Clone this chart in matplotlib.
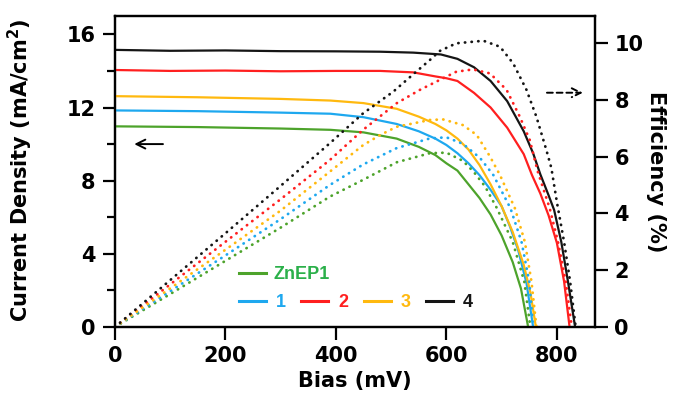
"""J-V and efficiency curves, twin axes."""

import matplotlib

matplotlib.use("Agg")
import matplotlib.pyplot as plt
from matplotlib.lines import Line2D
from matplotlib.ticker import MultipleLocator

# ---- data (bias in mV) ----
labels = ["ZnEP1", "1", "2", "3", "4"]
colors = ["#4da32b", "#1ea8ef", "#ff1f1f", "#ffb90f", "#151515"]
text_colors = ["#2bb04a", "#1ea8ef", "#ff1f1f", "#ffb90f", "#151515"]

# current density, mA/cm^2
jv_bias = {
    "ZnEP1": [0, 150, 300, 390, 450, 510, 550, 580, 600, 620, 640, 660, 680, 700,
              720, 735, 748],
    "1": [0, 150, 300, 390, 450, 510, 550, 580, 600, 620, 640, 660, 680, 700, 715,
          730, 745, 757],
    "2": [0, 100, 200, 300, 400, 480, 540, 580, 600, 620, 650, 680, 710, 740, 755,
          770, 785, 800, 813, 823],
    "3": [0, 150, 300, 390, 450, 510, 550, 580, 600, 620, 640, 660, 680, 700, 720,
          740, 752, 762],
    "4": [0, 100, 200, 300, 400, 480, 540, 590, 620, 650, 680, 710, 740, 757, 770,
          785, 795, 808, 820, 833],
}
jv_current = {
    "ZnEP1": [10.97, 10.93, 10.85, 10.78, 10.64, 10.3, 9.85, 9.4, 8.95, 8.55, 7.8,
              7.05, 6.15, 5.0, 3.55, 2.1, 0],
    "1": [11.84, 11.8, 11.72, 11.66, 11.47, 11.1, 10.7, 10.3, 9.95, 9.5, 8.95, 8.3,
          7.5, 6.6, 5.5, 4.2, 2.4, 0],
    "2": [14.05, 14.0, 14.02, 13.98, 14.0, 14.0, 13.92, 13.7, 13.6, 13.45, 12.8,
          12.0, 10.9, 9.45, 8.3, 7.3, 6.1, 4.6, 2.5, 0],
    "3": [12.62, 12.56, 12.47, 12.38, 12.24, 11.93, 11.5, 11.1, 10.75, 10.3, 9.7,
          8.85, 7.8, 6.6, 5.2, 3.4, 1.9, 0],
    "4": [15.15, 15.1, 15.12, 15.08, 15.07, 15.05, 15.0, 14.9, 14.66, 14.2, 13.45,
          12.35, 10.7, 9.5, 8.35, 7.2, 6.4, 4.65, 2.5, 0],
}

# efficiency, %
eff_bias = {
    "ZnEP1": [0, 100, 200, 300, 389, 449, 510, 570, 600, 630, 650, 670, 691, 720,
              741, 752],
    "1": [0, 100, 200, 300, 389, 449, 510, 570, 600, 630, 661, 685, 716, 736, 750,
          757],
    "2": [0, 100, 200, 300, 389, 449, 510, 552, 588, 618, 648, 679, 709, 733, 751,
          765, 787, 802, 816, 827],
    "3": [0, 100, 200, 300, 389, 449, 480, 510, 570, 594, 630, 655, 679, 697, 724,
          742, 754, 763],
    "4": [0, 100, 200, 300, 389, 449, 504, 540, 570, 588, 618, 667, 697, 721, 745,
          763, 781, 790, 800, 813, 824, 834],
}
eff_value = {
    "ZnEP1": [0, 1.16, 2.33, 3.5, 4.59, 5.18, 5.8, 6.12, 6.14, 5.85, 5.45, 4.95, 4.2,
              3.0, 1.6, 0],
    "1": [0, 1.26, 2.52, 3.8, 5.0, 5.72, 6.3, 6.64, 6.68, 6.45, 5.95, 5.35, 4.18,
          3.0, 1.6, 0],
    "2": [0, 1.5, 3.0, 4.5, 5.88, 6.94, 7.88, 8.35, 8.7, 8.99, 9.07, 8.93, 8.35,
          7.4, 6.58, 5.5, 4.18, 3.0, 1.6, 0],
    "3": [0, 1.36, 2.72, 4.1, 5.47, 6.4, 6.76, 7.05, 7.29, 7.31, 7.11, 6.76, 6.0,
          5.35, 4.18, 3.0, 1.6, 0],
    "4": [0, 1.65, 3.3, 4.97, 6.47, 7.52, 8.29, 8.9, 9.4, 9.72, 9.99, 10.08, 9.87,
          9.28, 8.35, 7.4, 6.23, 5.6, 4.4, 3.0, 1.6, 0],
}

x_ticks = [0, 200, 400, 600, 800]
j_ticks = [0, 4, 8, 12, 16]
eff_ticks = [0, 2, 4, 6, 8, 10]

plt.rcParams["font.family"] = ["DejaVu Sans"]
plt.rcParams["font.weight"] = "bold"
plt.rcParams["mathtext.default"] = "bf"

fig = plt.figure(figsize=(6.8, 4.01), dpi=100)
ax = fig.add_axes([0.169, 0.1845, 0.706, 0.7755])
ax2 = ax.twinx()

for name, c in zip(labels, colors):
    ax.plot(jv_bias[name], jv_current[name], color=c, lw=1.6, zorder=3,
            solid_joinstyle="round")
    ax2.plot(eff_bias[name], eff_value[name], color=c, lw=2.0,
             linestyle=(0, (0.1, 2.3)), dash_capstyle="round", zorder=2)

ax.set_xlim(0, 869)
ax.set_ylim(0, 17)
ax2.set_ylim(0, 10.95)

ax.set_xticks(x_ticks)
ax.set_yticks(j_ticks)
ax.yaxis.set_minor_locator(MultipleLocator(2))
ax2.set_yticks(eff_ticks)

for a in (ax, ax2):
    for s in a.spines.values():
        s.set_linewidth(1.6)
    a.tick_params(which="major", length=9, width=1.6, labelsize=15, pad=5)
    a.tick_params(which="minor", length=5.5, width=1.6)

ax.set_xlabel("Bias (mV)", fontsize=15, fontweight="bold", labelpad=3)
ax.set_ylabel(r"Current Density (mA/cm$^\mathbf{2}$)", fontsize=15,
              fontweight="bold")
ax.yaxis.set_label_coords(-0.167, 0.505)
ax2.set_ylabel("Efficiency (%)", fontsize=15, fontweight="bold", rotation=270,
               va="center")
ax2.yaxis.set_label_coords(1.127, 0.50)

# direction arrows
ax.annotate("", xy=(30, 10.0), xytext=(92, 10.0),
            arrowprops=dict(arrowstyle="->", lw=1.4, color="black",
                            mutation_scale=16))
ax2.annotate("", xy=(852, 8.25), xytext=(777, 8.25),
             arrowprops=dict(arrowstyle="->", lw=1.4, color="black",
                             linestyle=(0, (3, 2)), mutation_scale=16))

# legend: one row for ZnEP1, one for 1-4
handles = [Line2D([], [], color=c, lw=2.2) for c in colors]
leg1 = ax.legend(handles[:1], labels[:1], loc="center left",
                 bbox_to_anchor=(0.258, 0.168), frameon=False, borderpad=0,
                 borderaxespad=0, handlelength=1.5, handletextpad=0.45,
                 labelcolor=text_colors[:1],
                 prop={"family": "Liberation Sans", "weight": "bold", "size": 13})
ax.add_artist(leg1)
ax.legend(handles[1:], labels[1:], loc="center left",
          bbox_to_anchor=(0.258, 0.078), frameon=False, borderpad=0,
          borderaxespad=0, ncol=4, handlelength=1.5, handletextpad=0.55,
          columnspacing=0.85, labelcolor=text_colors[1:],
          prop={"family": "Liberation Sans", "weight": "bold", "size": 13})

fig.savefig("out.png", dpi=100)
